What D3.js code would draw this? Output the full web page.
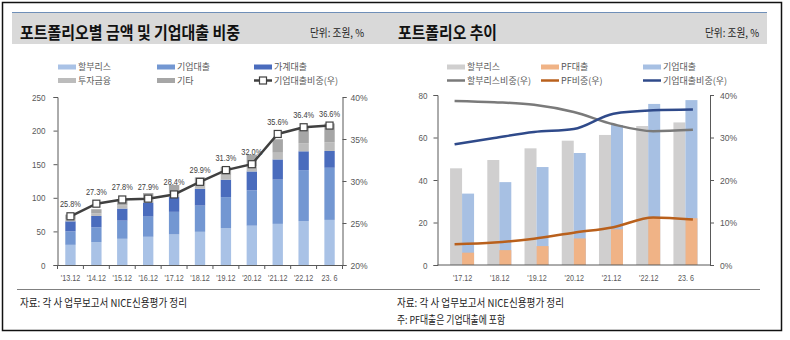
<!DOCTYPE html>
<html><head><meta charset="utf-8">
<script src="https://cdn.jsdelivr.net/npm/d3@7"></script>
<style>
body{margin:0;background:#fff;}
svg{display:block;}
.kr{font-family:"Noto Sans CJK KR","Noto Sans",sans-serif;}
.num{font-family:"Liberation Sans",Arial,sans-serif;}
</style></head><body>
<svg id="c" width="790" height="340"></svg>
<script>
// ---------- data ----------
const leftCats = ["'13.12","'14.12","'15.12","'16.12","'17.12","'18.12","'19.12","'20.12","'21.12","'22.12","23. 6"];
const leaseL  = [30,34,39,42,45.5,49.4,54.9,58.5,61.2,65.4,67.1];
const corpL   = [20,22,27,30,33.6,39,46.1,52.7,65.9,75.8,77.6];
const houseL  = [15,17,18,21,22,25,26,28,30,28,25];
const investL = [3,4,5,5,6,6,7,8,10,12,13];
const otherL  = [7,6,8,9,12,11,12,17,20,24,28];
const corpShareL = [25.8,27.3,27.8,27.9,28.4,29.9,31.3,32.0,35.6,36.4,36.6];
const leftNames = ["할부리스","기업대출","가계대출","투자금융","기타"];
const leftLineName = "기업대출비중(우)";
const leftYTicks = [0,50,100,150,200,250];
const leftY2Ticks = [20,25,30,35,40];

const rightCats = ["'17.12","'18.12","'19.12","'20.12","'21.12","'22.12","23. 6"];
const leaseR = [45.5,49.4,54.9,58.5,61.2,65.4,67.1];
const pfR    = [5.8,7,8.9,12.5,16.8,22.3,22];
const corpR  = [33.6,39,46.1,52.7,65.9,75.8,77.6];
const leaseShareR = [38.6,38.3,37.7,36.0,33.1,31.5,31.8];
const pfShareR    = [4.9,5.3,6.2,7.6,8.9,11.2,10.7];
const corpShareR  = [28.4,29.9,31.3,32.0,35.6,36.4,36.6];
const rightBarNames = ["할부리스","PF대출","기업대출"];
const rightLineNames = ["할부리스비중(우)","PF비중(우)","기업대출비중(우)"];
const rightYTicks = [0,20,40,60,80];
const rightY2Ticks = [0,10,20,30,40];

// ---------- styles ----------
const leftColors = ["#a9c2e6","#7397d2","#4a6cbd","#bcbcbc","#a6a6a6"];
const lineDark = "#404040";
const rColors = {lease:"#d0cfcf", pf:"#f0b386", corp:"#a7c0e3"};
const rLine = {lease:"#7a7a7a", pf:"#b9601c", corp:"#2f4a8a"};
const axisCol = "#595959";
const txtCol = "#595959";

function condense(sel, f){
  sel.each(function(){
    const w = this.getComputedTextLength();
    d3.select(this).attr("textLength", w*f).attr("lengthAdjust","spacingAndGlyphs");
  });
}

const svg = d3.select("#c");

// frame
svg.append("rect").attr("x",2.5).attr("y",2.5).attr("width",779).attr("height",328)
  .attr("fill","none").attr("stroke","#111").attr("stroke-width",1.5);
// title band
svg.append("rect").attr("x",12).attr("y",12.5).attr("width",755).attr("height",31.5).attr("fill","#d9d9d9");
svg.append("line").attr("x1",12).attr("x2",767).attr("y1",12.5).attr("y2",12.5).attr("stroke","#6f8fb8").attr("stroke-width",1.2);

svg.append("text").attr("class","kr").attr("x",20).attr("y",39).attr("font-size",17).attr("font-weight","bold")
  .attr("textLength",220).attr("lengthAdjust","spacingAndGlyphs").attr("fill","#111").text("포트폴리오별 금액 및 기업대출 비중");
svg.append("text").attr("class","kr").attr("x",310).attr("y",37).attr("font-size",11)
  .attr("textLength",54).attr("lengthAdjust","spacingAndGlyphs").attr("fill","#222").text("단위: 조원, %");
svg.append("text").attr("class","kr").attr("x",398).attr("y",39).attr("font-size",17).attr("font-weight","bold")
  .attr("textLength",99).attr("lengthAdjust","spacingAndGlyphs").attr("fill","#111").text("포트폴리오 추이");
svg.append("text").attr("class","kr").attr("x",705).attr("y",37).attr("font-size",11)
  .attr("textLength",54).attr("lengthAdjust","spacingAndGlyphs").attr("fill","#222").text("단위: 조원, %");

// footer
svg.append("line").attr("x1",17).attr("x2",760).attr("y1",289.5).attr("y2",289.5).attr("stroke","#808080");
svg.append("text").attr("class","kr").attr("x",20).attr("y",307).attr("font-size",11)
  .attr("textLength",167).attr("lengthAdjust","spacingAndGlyphs").attr("fill","#222").text("자료: 각 사 업무보고서 NICE신용평가 정리");
svg.append("text").attr("class","kr").attr("x",397).attr("y",307).attr("font-size",11)
  .attr("textLength",167).attr("lengthAdjust","spacingAndGlyphs").attr("fill","#222").text("자료: 각 사 업무보고서 NICE신용평가 정리");
svg.append("text").attr("class","kr").attr("x",397).attr("y",324).attr("font-size",11)
  .attr("textLength",108).attr("lengthAdjust","spacingAndGlyphs").attr("fill","#222").text("주: PF대출은 기업대출에 포함");

// ---------- LEFT CHART ----------
const L = {x0:57.5, x1:342.5, y0:265, y1:97};
const xL = d3.scaleBand().domain(leftCats).range([L.x0,L.x1]).paddingInner(0.6).paddingOuter(0.3);
const yL = d3.scaleLinear().domain([0,250]).range([L.y0,L.y1]);
const yL2 = d3.scaleLinear().domain([20,40]).range([L.y0,L.y1]);

const tableL = leftCats.map((c,i)=>({cat:c,"할부리스":leaseL[i],"기업대출":corpL[i],"가계대출":houseL[i],"투자금융":investL[i],"기타":otherL[i]}));
const stackL = d3.stack().keys(leftNames)(tableL);
const gL = svg.append("g");
stackL.forEach((s,k)=>{
  gL.append("g").attr("fill",leftColors[k]).selectAll("rect").data(s).join("rect")
    .attr("x",d=>xL(d.data.cat)).attr("width",xL.bandwidth())
    .attr("y",d=>yL(d[1])).attr("height",d=>yL(d[0])-yL(d[1]));
});
// axes
const axL = gL.append("g").attr("transform",`translate(${L.x0},0)`)
  .call(d3.axisLeft(yL).tickValues(leftYTicks).tickSize(4).tickPadding(8));
const axL2 = gL.append("g").attr("transform",`translate(${L.x1},0)`)
  .call(d3.axisRight(yL2).tickValues(leftY2Ticks).tickSize(4).tickPadding(4).tickFormat(d=>d+"%"));
const axLB = gL.append("g").attr("transform",`translate(0,${L.y0})`)
  .call(d3.axisBottom(xL).tickSize(0).tickPadding(10));
// category boundary ticks
const stepL = xL.step();
const b0 = xL(leftCats[0]) - stepL*xL.paddingInner()/2;
gL.append("g").selectAll("line").data(d3.range(leftCats.length+1)).join("line")
  .attr("x1",i=>b0 + i*stepL).attr("x2",i=>b0 + i*stepL)
  .attr("y1",L.y0).attr("y2",L.y0+4).attr("stroke",axisCol);
[axL,axL2,axLB].forEach(a=>{
  a.select(".domain").attr("stroke",axisCol);
  a.selectAll(".tick line").attr("stroke",axisCol);
  a.selectAll("text").attr("class","num").attr("font-size",9.5).attr("fill",txtCol);
});
condense(axL.selectAll("text"),0.85);
condense(axL2.selectAll("text"),0.9);
axLB.selectAll("text").attr("font-size",9);
condense(axLB.selectAll("text"),0.8);
// line
const ptsL = leftCats.map((c,i)=>[xL(c)+xL.bandwidth()/2, yL2(corpShareL[i])]);
gL.append("path").attr("d",d3.line()(ptsL)).attr("fill","none").attr("stroke",lineDark).attr("stroke-width",2.5);
gL.append("g").selectAll("rect").data(ptsL).join("rect")
  .attr("x",d=>d[0]-3.5).attr("y",d=>d[1]-3.5).attr("width",7).attr("height",7)
  .attr("fill","#fff").attr("stroke",lineDark).attr("stroke-width",1.2);
const dl = gL.append("g").selectAll("text").data(ptsL).join("text").attr("class","num")
  .attr("x",d=>d[0]).attr("y",d=>d[1]-9).attr("text-anchor","middle").attr("font-size",9).attr("fill","#404040")
  .text((d,i)=>corpShareL[i].toFixed(1)+"%");
condense(dl,0.82);

// left legend
const legL = [
  {n:"할부리스",c:leftColors[0],x:58,y:67},{n:"기업대출",c:leftColors[1],x:157,y:67},{n:"가계대출",c:leftColors[2],x:254,y:67},
  {n:"투자금융",c:leftColors[3],x:58,y:80.5},{n:"기타",c:leftColors[4],x:157,y:80.5}];
legL.forEach(l=>{
  svg.append("rect").attr("x",l.x).attr("y",l.y-2.5).attr("width",18).attr("height",5).attr("fill",l.c);
  svg.append("text").attr("class","kr").attr("x",l.x+20).attr("y",l.y+3.2).attr("font-size",9).attr("fill",txtCol).text(l.n);
});
svg.append("line").attr("x1",254).attr("x2",272).attr("y1",80.5).attr("y2",80.5).attr("stroke",lineDark).attr("stroke-width",2.5);
svg.append("rect").attr("x",259.5).attr("y",77).attr("width",7).attr("height",7).attr("fill","#fff").attr("stroke",lineDark).attr("stroke-width",1.2);
svg.append("text").attr("class","kr").attr("x",274).attr("y",83.7).attr("font-size",9).attr("fill",txtCol).text(leftLineName);

// ---------- RIGHT CHART ----------
const R = {x0:437.5, x1:710, y0:265, y1:95};
const xR = d3.scalePoint().domain(rightCats).range([R.x0,R.x1]).padding(0.66);
const xRL = d3.scalePoint().domain(rightCats).range([R.x0,R.x1]).padding(0.43);
const yR = d3.scaleLinear().domain([0,80]).range([R.y0,R.y1]);
const yR2 = d3.scaleLinear().domain([0,40]).range([R.y0,R.y1]);
const bw = 12;
const gR = svg.append("g");
gR.append("g").attr("fill",rColors.lease).selectAll("rect").data(rightCats).join("rect")
  .attr("x",c=>xR(c)-bw).attr("width",bw).attr("y",(c,i)=>yR(leaseR[i])).attr("height",(c,i)=>yR(0)-yR(leaseR[i]));
gR.append("g").attr("fill",rColors.corp).selectAll("rect").data(rightCats).join("rect")
  .attr("x",c=>xR(c)).attr("width",bw).attr("y",(c,i)=>yR(corpR[i])).attr("height",(c,i)=>yR(0)-yR(corpR[i]));
gR.append("g").attr("fill",rColors.pf).selectAll("rect").data(rightCats).join("rect")
  .attr("x",c=>xR(c)).attr("width",bw).attr("y",(c,i)=>yR(pfR[i])).attr("height",(c,i)=>yR(0)-yR(pfR[i]));

const axR = gR.append("g").attr("transform",`translate(${R.x0},0)`)
  .call(d3.axisLeft(yR).tickValues(rightYTicks).tickSize(4).tickPadding(6));
const axR2 = gR.append("g").attr("transform",`translate(${R.x1},0)`)
  .call(d3.axisRight(yR2).tickValues(rightY2Ticks).tickSize(4).tickPadding(6).tickFormat(d=>d+"%"));
const axRB = gR.append("g").attr("transform",`translate(0,${R.y0})`)
  .call(d3.axisBottom(xR).tickSize(0).tickPadding(10));
axRB.select(".domain").attr("d",`M${R.x0},0H${R.x1}`);
[axR,axR2,axRB].forEach(a=>{
  a.select(".domain").attr("stroke",axisCol);
  a.selectAll(".tick line").attr("stroke",axisCol);
  a.selectAll("text").attr("class","num").attr("font-size",9.5).attr("fill",txtCol);
});
condense(axR.selectAll("text"),0.85);
condense(axR2.selectAll("text"),0.9);
axRB.selectAll("text").attr("font-size",9);
condense(axRB.selectAll("text"),0.8);
const lineR = d3.line().curve(d3.curveMonotoneX);
[[leaseShareR,rLine.lease],[pfShareR,rLine.pf],[corpShareR,rLine.corp]].forEach(([arr,col])=>{
  gR.append("path").attr("d",lineR(rightCats.map((c,i)=>[xRL(c),yR2(arr[i])])))
    .attr("fill","none").attr("stroke",col).attr("stroke-width",2.5);
});

// right legend
const legR = [
  {n:rightBarNames[0],c:rColors.lease,x:447,y:67},{n:rightBarNames[1],c:rColors.pf,x:541,y:67},{n:rightBarNames[2],c:rColors.corp,x:643,y:67}];
legR.forEach(l=>{
  svg.append("rect").attr("x",l.x).attr("y",l.y-2.5).attr("width",18).attr("height",5).attr("fill",l.c);
  svg.append("text").attr("class","kr").attr("x",l.x+20).attr("y",l.y+3.2).attr("font-size",9).attr("fill",txtCol).text(l.n);
});
const legR2 = [
  {n:rightLineNames[0],c:rLine.lease,x:447,y:80.5},{n:rightLineNames[1],c:rLine.pf,x:541,y:80.5},{n:rightLineNames[2],c:rLine.corp,x:643,y:80.5}];
legR2.forEach(l=>{
  svg.append("line").attr("x1",l.x).attr("x2",l.x+18).attr("y1",l.y).attr("y2",l.y).attr("stroke",l.c).attr("stroke-width",2.5);
  svg.append("text").attr("class","kr").attr("x",l.x+20).attr("y",l.y+3.2).attr("font-size",9).attr("fill",txtCol).text(l.n);
});
</script>
</body></html>
